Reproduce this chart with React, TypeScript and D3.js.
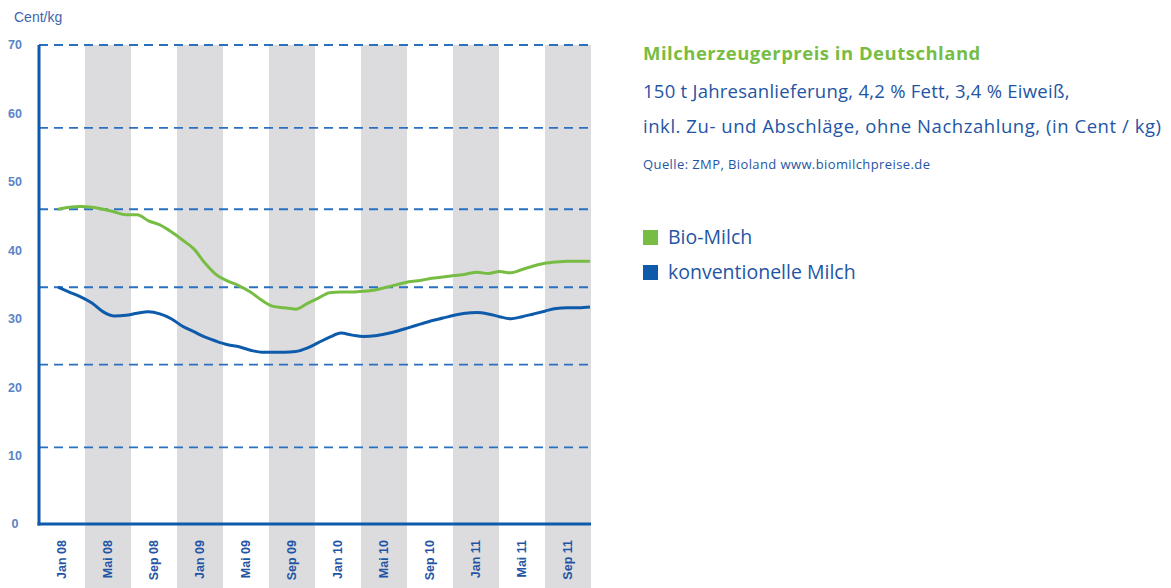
import React, { useEffect, useRef } from 'react';
import * as d3 from 'd3';

// x-axis periods (4 months each, Jan 08 - Dec 11)
const periods = [
  'Jan 08', 'Mai 08', 'Sep 08', 'Jan 09', 'Mai 09', 'Sep 09',
  'Jan 10', 'Mai 10', 'Sep 10', 'Jan 11', 'Mai 11', 'Sep 11',
];

const yTicks = [0, 10, 20, 30, 40, 50, 60, 70];
// dashed guide lines (they don't sit on the tick labels in the original)
const gridValues = [11.2, 23.3, 34.6, 46.0, 57.9, 70];

// monthly prices, Cent/kg
const bioMilch = [
  46.0, 46.3, 46.4, 46.3, 46.0, 45.6, 45.2, 45.2, 44.3, 43.7, 42.7, 41.5,
  40.2, 38.1, 36.4, 35.5, 34.8, 33.9, 32.7, 31.8, 31.6, 31.4, 32.2, 33.0,
  33.8, 33.9, 33.9, 34.0, 34.2, 34.6, 35.0, 35.4, 35.6, 35.9, 36.1, 36.3,
  36.5, 36.8, 36.6, 36.9, 36.7, 37.2, 37.7, 38.1, 38.3, 38.4, 38.4, 38.4,
];
const konvMilch = [
  34.6, 33.9, 33.2, 32.3, 31.0, 30.4, 30.5, 30.8, 31.0, 30.7, 30.0, 28.9,
  28.1, 27.3, 26.7, 26.2, 25.9, 25.4, 25.1, 25.1, 25.1, 25.2, 25.7, 26.5,
  27.3, 27.9, 27.6, 27.4, 27.5, 27.8, 28.2, 28.7, 29.2, 29.7, 30.1, 30.5,
  30.8, 30.9, 30.7, 30.3, 30.0, 30.3, 30.7, 31.1, 31.5, 31.6, 31.6, 31.7,
];

const GREEN = '#78bd43';
const BLUE = '#0f5bab';
const TEXT_BLUE = '#1f55a4';

const App = () => {
  const svgRef = useRef<SVGSVGElement>(null);

  useEffect(() => {
    const svg = d3.select(svgRef.current);
    svg.selectAll('*').remove();

    const width = 1171;
    const height = 588;
    const left = 39, right = 591, top = 45, bottom = 524;

    const band = d3.scaleBand<string>().domain(periods).range([left, right]);
    const y = d3.scaleLinear().domain([0, 70]).range([bottom, top]);
    const x = d3.scaleLinear().domain([0, bioMilch.length - 1]).range([left + 19, right - 1]);

    svg.attr('width', width).attr('height', height);

    // grey bands on every second period
    svg.append('g')
      .selectAll('rect')
      .data(periods.filter((d, i) => i % 2 === 1))
      .join('rect')
      .attr('x', d => band(d)!)
      .attr('y', top)
      .attr('width', band.bandwidth())
      .attr('height', height - top)
      .attr('fill', '#dcdcde');

    // dashed guide lines
    svg.append('g')
      .selectAll('line')
      .data(gridValues)
      .join('line')
      .attr('x1', left)
      .attr('x2', right)
      .attr('y1', d => y(d))
      .attr('y2', d => y(d))
      .attr('stroke', '#2a70c0')
      .attr('stroke-width', 1.8)
      .attr('stroke-dasharray', '9,6');

    // y tick labels
    svg.append('g')
      .selectAll('text')
      .data(yTicks)
      .join('text')
      .attr('x', 15)
      .attr('y', d => y(d))
      .attr('dy', '0.35em')
      .attr('text-anchor', 'middle')
      .style('font-family', '"Liberation Sans", Arial, sans-serif')
      .style('font-size', '12.5px')
      .style('font-weight', 'bold')
      .style('fill', '#5a84c6')
      .text(d => d);

    svg.append('text')
      .attr('x', 14)
      .attr('y', 22)
      .style('font-family', '"Liberation Sans", Arial, sans-serif')
      .style('font-size', '14px')
      .style('fill', '#3d66ad')
      .text('Cent/kg');

    // x labels, rotated
    svg.append('g')
      .selectAll('text')
      .data(periods)
      .join('text')
      .attr('transform', d => `translate(${band(d)! + band.bandwidth() / 2 + 4}, 540) rotate(-90)`)
      .attr('text-anchor', 'end')
      .style('font-family', '"Liberation Sans", Arial, sans-serif')
      .style('font-size', '12.5px')
      .style('font-weight', 'bold')
      .style('fill', TEXT_BLUE)
      .text(d => d);

    // lines
    const line = d3.line<number>()
      .x((d, i) => x(i))
      .y(d => y(d))
      .curve(d3.curveMonotoneX);

    svg.append('path')
      .datum(bioMilch)
      .attr('d', line)
      .attr('fill', 'none')
      .attr('stroke', GREEN)
      .attr('stroke-width', 3);

    svg.append('path')
      .datum(konvMilch)
      .attr('d', line)
      .attr('fill', 'none')
      .attr('stroke', BLUE)
      .attr('stroke-width', 3);

    // axes
    svg.append('line')
      .attr('x1', left).attr('x2', left)
      .attr('y1', top).attr('y2', bottom + 1.5)
      .attr('stroke', BLUE).attr('stroke-width', 3);
    svg.append('line')
      .attr('x1', left - 1.5).attr('x2', right)
      .attr('y1', bottom).attr('y2', bottom)
      .attr('stroke', BLUE).attr('stroke-width', 3);

    // title block
    const txt = svg.append('g').style('font-family', '"Open Sans", "Noto Sans", sans-serif');
    txt.append('text')
      .attr('x', 643).attr('y', 60)
      .style('font-size', '18.5px')
      .style('letter-spacing', '0.5px')
      .style('font-weight', 'bold')
      .style('fill', GREEN)
      .text('Milcherzeugerpreis in Deutschland');
    txt.append('text')
      .attr('x', 643).attr('y', 98)
      .style('font-size', '18.5px')
      .style('letter-spacing', '0.25px')
      .style('fill', TEXT_BLUE)
      .text('150 t Jahresanlieferung, 4,2 % Fett, 3,4 % Eiweiß,');
    txt.append('text')
      .attr('x', 643).attr('y', 133)
      .style('font-size', '18.5px')
      .style('letter-spacing', '0.55px')
      .style('fill', TEXT_BLUE)
      .text('inkl. Zu- und Abschläge, ohne Nachzahlung, (in Cent / kg)');
    txt.append('text')
      .attr('x', 643).attr('y', 169)
      .style('font-size', '13px')
      .style('letter-spacing', '0.4px')
      .style('fill', TEXT_BLUE)
      .text('Quelle: ZMP, Bioland www.biomilchpreise.de');

    // legend
    const legendData = [
      { label: 'Bio-Milch', color: GREEN },
      { label: 'konventionelle Milch', color: BLUE },
    ];
    const items = svg.append('g')
      .selectAll('g')
      .data(legendData)
      .join('g')
      .attr('transform', (d, i) => `translate(643, ${230 + i * 35})`);
    items.append('rect')
      .attr('width', 15)
      .attr('height', 15)
      .attr('fill', d => d.color);
    items.append('text')
      .attr('x', 25)
      .attr('y', 7.5)
      .attr('dy', '0.35em')
      .style('font-family', '"Open Sans", "Noto Sans", sans-serif')
      .style('font-size', '19.5px')
      .style('fill', TEXT_BLUE)
      .text(d => d.label);
  }, []);

  return (
    <div style={{ position: 'absolute', left: 0, top: 0 }}>
      <svg ref={svgRef} style={{ display: 'block' }}></svg>
    </div>
  );
};

export default App;
